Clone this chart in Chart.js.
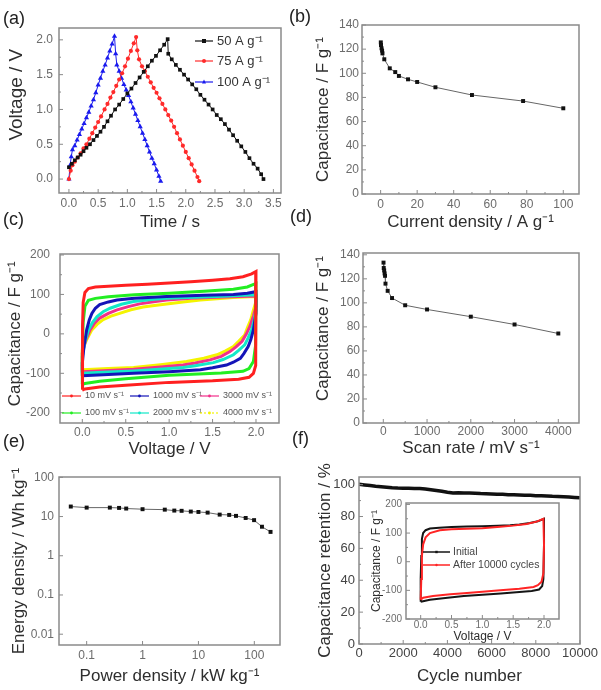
<!DOCTYPE html>
<html>
<head>
<meta charset="utf-8">
<script src="https://cdn.jsdelivr.net/npm/chart.js@4.4.0/dist/chart.umd.min.js"></script>
<style>
  body { margin: 0; background: #fff; }
  #wrap { position: relative; width: 601px; height: 690px; overflow: hidden; font-family: "Liberation Sans", Arial, sans-serif; }
  #wrap canvas { position: absolute; left: 0; top: 0; }
  .tag { position: absolute; font-size: 18px; line-height: 18px; color: #222; }
</style>
</head>
<body>
<div id="wrap">
  <canvas id="chartGcd" width="601" height="690"></canvas>
  <canvas id="chartRate" width="601" height="690"></canvas>
  <canvas id="chartCv" width="601" height="690"></canvas>
  <canvas id="chartScan" width="601" height="690"></canvas>
  <canvas id="chartRagone" width="601" height="690"></canvas>
  <canvas id="chartCycle" width="601" height="690"></canvas>
  <canvas id="chartInset" width="601" height="690"></canvas>
  <div class="tag" style="left:3px;top:9px">(a)</div>
  <div class="tag" style="left:289px;top:7px">(b)</div>
  <div class="tag" style="left:3px;top:210px">(c)</div>
  <div class="tag" style="left:290px;top:207px">(d)</div>
  <div class="tag" style="left:3px;top:432px">(e)</div>
  <div class="tag" style="left:292px;top:429px">(f)</div>
</div>
<script>
// (a) galvanostatic charge/discharge
const gcdLabels = ['50 A g⁻¹', '75 A g⁻¹', '100 A g⁻¹'];
const gcdTime50 = [0, 0.05, 0.10, 0.15, 0.20, 0.25, 0.30, 0.36, 0.42, 0.48, 0.54, 0.60, 0.66, 0.72, 0.79, 0.86, 0.93, 1.00, 1.07, 1.14, 1.21, 1.28, 1.35, 1.42, 1.49, 1.56, 1.63, 1.69, 1.70, 1.76, 1.83, 1.90, 1.97, 2.04, 2.11, 2.18, 2.25, 2.32, 2.39, 2.46, 2.53, 2.60, 2.67, 2.74, 2.81, 2.88, 2.95, 3.02, 3.09, 3.16, 3.23, 3.29, 3.33];
const gcdVolt50 = [0.17, 0.22, 0.27, 0.31, 0.35, 0.40, 0.45, 0.50, 0.56, 0.62, 0.68, 0.75, 0.83, 0.91, 1.00, 1.07, 1.15, 1.23, 1.30, 1.38, 1.46, 1.54, 1.62, 1.70, 1.77, 1.85, 1.93, 2.01, 1.80, 1.72, 1.64, 1.57, 1.50, 1.43, 1.36, 1.29, 1.21, 1.14, 1.07, 1.00, 0.92, 0.86, 0.79, 0.71, 0.63, 0.55, 0.47, 0.39, 0.30, 0.22, 0.15, 0.07, 0.00];
const gcdTime75 = [0, 0.03, 0.06, 0.10, 0.15, 0.20, 0.25, 0.30, 0.35, 0.40, 0.45, 0.50, 0.55, 0.61, 0.66, 0.71, 0.76, 0.81, 0.86, 0.91, 0.96, 1.01, 1.06, 1.11, 1.15, 1.17, 1.20, 1.25, 1.30, 1.35, 1.40, 1.45, 1.50, 1.55, 1.60, 1.65, 1.70, 1.75, 1.80, 1.85, 1.90, 1.95, 2.00, 2.05, 2.10, 2.15, 2.20, 2.23];
const gcdVolt75 = [0, 0.12, 0.20, 0.25, 0.31, 0.37, 0.44, 0.50, 0.58, 0.66, 0.74, 0.82, 0.90, 1.00, 1.08, 1.17, 1.25, 1.34, 1.43, 1.52, 1.62, 1.73, 1.84, 1.95, 2.04, 1.85, 1.72, 1.62, 1.55, 1.47, 1.39, 1.31, 1.24, 1.16, 1.08, 1.00, 0.92, 0.84, 0.75, 0.66, 0.57, 0.48, 0.39, 0.30, 0.21, 0.12, 0.03, -0.03];
const gcdTime100 = [0, 0.02, 0.04, 0.06, 0.10, 0.14, 0.18, 0.22, 0.26, 0.30, 0.34, 0.38, 0.42, 0.46, 0.50, 0.54, 0.58, 0.62, 0.66, 0.70, 0.74, 0.78, 0.80, 0.82, 0.86, 0.90, 0.94, 0.98, 1.02, 1.06, 1.10, 1.14, 1.18, 1.22, 1.26, 1.30, 1.34, 1.38, 1.42, 1.46, 1.50, 1.54, 1.57];
const gcdVolt100 = [0, 0.20, 0.32, 0.42, 0.48, 0.56, 0.64, 0.72, 0.80, 0.88, 0.96, 1.05, 1.14, 1.24, 1.35, 1.45, 1.55, 1.64, 1.74, 1.84, 1.94, 2.05, 1.80, 1.64, 1.55, 1.45, 1.36, 1.28, 1.20, 1.11, 1.02, 0.93, 0.84, 0.75, 0.66, 0.57, 0.48, 0.39, 0.30, 0.22, 0.13, 0.04, -0.03];
const timeTicks = [0, 0.5, 1, 1.5, 2, 2.5, 3, 3.5];
const voltTicks = [0, 0.5, 1, 1.5, 2];

// (b) capacitance vs current density
const currentDensity = [0.1, 0.2, 0.5, 0.8, 1, 2, 5, 8, 10, 15, 20, 30, 50, 78, 100];
const capByCurrent = [125.6, 123.4, 120.7, 118.8, 116.5, 111.6, 104.1, 101, 97.8, 95, 92.8, 88.4, 82, 77, 71];
const currentTicks = [0, 20, 40, 60, 80, 100];
const capTicks = [0, 20, 40, 60, 80, 100, 120, 140];

// (c) CV loops at six scan rates
const cvLabels = ['10 mV s⁻¹', '100 mV s⁻¹', '1000 mV s⁻¹', '2000 mV s⁻¹', '3000 mV s⁻¹', '4000 mV s⁻¹'];
const cv10V = [0.00, 0.00, 0.005, 0.01, 0.03, 0.07, 0.15, 0.30, 0.50, 0.75, 1.00, 1.25, 1.50, 1.70, 1.85, 1.95, 2.00, 2.00, 2.00, 1.99, 1.97, 1.92, 1.80, 1.50, 1.00, 0.50, 0.20, 0.03, 0.00];
const cv10C = [-142, -60, 20, 80, 105, 115, 119, 121, 123, 126, 129, 132, 136, 140, 145, 152, 158, 100, 0, -80, -100, -110, -115, -119, -123, -130, -135, -140, -142];
const cv100V = [0.00, 0.00, 0.01, 0.03, 0.07, 0.15, 0.30, 0.60, 1.00, 1.40, 1.74, 1.90, 2.00, 2.00, 1.99, 1.97, 1.92, 1.85, 1.60, 1.00, 0.50, 0.20, 0.03, 0.00];
const cv100C = [-128, -50, 30, 70, 85, 90, 94, 99, 103, 108, 113, 119, 128, 50, -30, -70, -88, -95, -99, -105, -114, -120, -126, -128];
const cv1000V = [0.00, 0.00, 0.02, 0.05, 0.08, 0.11, 0.15, 0.20, 0.30, 0.40, 0.60, 0.97, 1.40, 1.74, 1.90, 2.00, 2.00, 1.97, 1.94, 1.91, 1.86, 1.82, 1.74, 1.66, 1.50, 1.36, 1.00, 0.59, 0.30, 0.00];
const cv1000C = [-106, -74, -30, 10, 35, 52, 65, 74, 81, 86, 90, 95, 98, 100, 103, 107, 52, 10, -15, -32, -50, -62, -72, -79, -86, -91, -96, -100, -103, -106];
const cv2000V = [0.00, 0.00, 0.03, 0.07, 0.12, 0.17, 0.24, 0.32, 0.45, 0.59, 0.80, 0.97, 1.30, 1.55, 1.80, 2.00, 2.00, 1.98, 1.95, 1.91, 1.87, 1.80, 1.74, 1.62, 1.51, 1.30, 1.16, 0.80, 0.59, 0.30, 0.00];
const cv2000C = [-100, -58, -20, 10, 30, 44, 56, 65, 75, 82, 87, 90, 93, 95, 97, 99, 61, 35, 10, -10, -28, -42, -53, -65, -73, -81, -85, -91, -94, -97, -100];
const cv3000V = [0.00, 0.00, 0.04, 0.09, 0.14, 0.20, 0.30, 0.40, 0.53, 0.66, 0.80, 0.97, 1.25, 1.55, 1.80, 2.00, 2.00, 1.97, 1.93, 1.89, 1.84, 1.77, 1.70, 1.60, 1.47, 1.30, 1.16, 0.80, 0.59, 0.30, 0.00];
const cv3000C = [-96, -49, -15, 10, 27, 40, 52, 61, 69, 76, 81, 86, 90, 93, 95, 96, 69, 45, 19, 0, -19, -33, -45, -57, -66, -74, -79, -86, -90, -93, -96];
const cv4000V = [0.00, 0.00, 0.05, 0.11, 0.17, 0.24, 0.33, 0.43, 0.56, 0.70, 0.83, 0.97, 1.16, 1.36, 1.55, 1.74, 2.00, 2.00, 1.97, 1.94, 1.90, 1.87, 1.80, 1.74, 1.65, 1.55, 1.40, 1.20, 0.90, 0.59, 0.30, 0.00];
const cv4000C = [-91, -41, -15, 10, 24, 36, 45, 52, 61, 68, 72, 76, 81, 86, 89, 92, 95, 82, 60, 36, 15, -3, -19, -32, -43, -53, -62, -70, -78, -85, -88, -91];
const cvVoltTicks = [0, 0.5, 1, 1.5, 2];
const cvCapTicks = [-200, -100, 0, 100, 200];

// (d) capacitance vs scan rate
const scanRate = [5, 10, 20, 30, 40, 50, 100, 200, 500, 1000, 2000, 3000, 4000];
const capByScan = [133.5, 129, 127, 124.5, 122.5, 116, 110, 104, 98, 94.5, 88.5, 82, 74.5];
const scanTicks = [0, 1000, 2000, 3000, 4000];

// (e) Ragone plot
const powerDensity = [0.052, 0.1, 0.26, 0.38, 0.51, 1.0, 2.5, 3.7, 5, 7.3, 10, 14.6, 24, 35.5, 47, 70, 99, 137, 195];
const energyDensity = [18.0, 16.9, 16.9, 16.6, 16.0, 15.4, 15.0, 14.2, 14.0, 13.4, 13.1, 12.6, 11.2, 11.0, 10.4, 9.2, 8.1, 5.5, 4.06];
const powerTicks = [0.1, 1, 10, 100];
const energyTicks = [0.01, 0.1, 1, 10, 100];

// (f) cycling stability + inset CV
const cycleNumber = [0, 250, 500, 750, 1000, 1250, 1500, 1750, 2000, 2250, 2500, 2750, 3000, 3250, 3500, 3750, 4000, 4250, 4500, 4750, 5000, 5250, 5500, 5750, 6000, 6250, 6500, 6750, 7000, 7250, 7500, 7750, 8000, 8250, 8500, 8750, 9000, 9250, 9500, 9750, 10000];
const retention = [100.2, 99.8, 99.4, 99.0, 98.7, 98.4, 98.1, 97.9, 97.8, 97.7, 97.6, 97.6, 97.3, 96.8, 96.3, 95.8, 95.2, 94.7, 94.9, 94.8, 94.7, 94.6, 94.4, 94.3, 94.2, 94.0, 93.9, 93.7, 93.6, 93.5, 93.4, 93.3, 93.1, 93.0, 92.9, 92.7, 92.6, 92.4, 92.2, 92.0, 91.7];
const cycleTicks = [0, 2000, 4000, 6000, 8000, 10000];
const retentionTicks = [0, 20, 40, 60, 80, 100];
const insetLabels = ['Initial', 'After 10000 cycles'];
const initV = [0.00, 0.00, 0.01, 0.02, 0.04, 0.08, 0.15, 0.30, 0.50, 0.75, 1.00, 1.25, 1.45, 1.60, 1.77, 1.90, 2.00, 2.00, 1.99, 1.97, 1.92, 1.80, 1.60, 1.30, 1.00, 0.70, 0.40, 0.15, 0.02, 0.00];
const initC = [-140, -60, 20, 80, 100, 110, 116, 119, 121, 123, 124, 126, 127, 130, 135, 141, 150, 60, -60, -85, -97, -102, -106, -111, -115, -120, -127, -133, -139, -140];
const agedV = [0.00, 0.01, 0.02, 0.04, 0.08, 0.15, 0.31, 0.50, 0.75, 1.00, 1.29, 1.50, 1.72, 1.88, 1.99, 2.00, 1.99, 1.96, 1.90, 1.83, 1.60, 1.29, 1.00, 0.70, 0.48, 0.20, 0.04, 0.00];
const agedC = [-133, -60, 20, 60, 85, 100, 110, 113, 115, 117, 122, 126, 132, 140, 150, 60, -40, -70, -82, -88, -94, -100, -105, -110, -114, -120, -126, -133];
const insetVoltTicks = [0, 0.5, 1, 1.5, 2];
const insetCapTicks = [-200, -100, 0, 100, 200];

const FONT = '"Liberation Sans", Arial, sans-serif';
Chart.defaults.font.family = FONT;

const pairs = (xs, ys) => xs.map((x, i) => ({ x: x, y: ys[i] }));

// box round the plot area with inward ticks, like Origin
const framePlugin = {
    id: 'frame',
    afterDatasetsDraw(chart, args, opts) {
        const { ctx, chartArea: a, scales } = chart;
        ctx.save();
        ctx.strokeStyle = '#8a8a8a';
        ctx.lineWidth = 1.5;
        ctx.strokeRect(a.left, a.top, a.right - a.left, a.bottom - a.top);
        ctx.lineWidth = 1;
        ['x', 'y'].forEach(id => {
            const s = scales[id];
            const vals = s.ticks.map(t => t.value);
            const marks = vals.map(v => [v, 4]);
            if (s.type === 'linear') {
                for (let i = 0; i < vals.length - 1; i++) marks.push([(vals[i] + vals[i + 1]) / 2, 2]);
            }
            marks.forEach(([v, len]) => {
                const p = s.getPixelForValue(v);
                ctx.beginPath();
                if (id === 'x') { ctx.moveTo(p, a.bottom); ctx.lineTo(p, a.bottom - len); }
                else { ctx.moveTo(a.left, p); ctx.lineTo(a.left + len, p); }
                ctx.stroke();
            });
        });
        ctx.restore();
    }
};

function drawMarker(ctx, style, x, y, r, color) {
    ctx.fillStyle = color;
    ctx.beginPath();
    if (style === 'rect') ctx.rect(x - r, y - r, 2 * r, 2 * r);
    else if (style === 'triangle') { ctx.moveTo(x, y - r * 1.2); ctx.lineTo(x + r, y + r * 0.8); ctx.lineTo(x - r, y + r * 0.8); ctx.closePath(); }
    else ctx.arc(x, y, r, 0, Math.PI * 2);
    ctx.fill();
}

// small legend placed inside the plot
const keyPlugin = {
    id: 'keys',
    afterDraw(chart, args, opts) {
        if (!opts || !opts.rows) return;
        const ctx = chart.ctx;
        ctx.save();
        ctx.font = opts.font;
        ctx.textBaseline = 'middle';
        opts.rows.forEach(r => {
            const ds = chart.data.datasets[r.index];
            ctx.strokeStyle = ds.borderColor;
            ctx.lineWidth = opts.lineWidth || 1.2;
            ctx.setLineDash(r.dash || []);
            ctx.beginPath();
            ctx.moveTo(r.x, r.y);
            ctx.lineTo(r.x + opts.len, r.y);
            ctx.stroke();
            ctx.setLineDash([]);
            if (opts.marker) drawMarker(ctx, ds.pointStyle, r.x + opts.len / 2, r.y, opts.marker, ds.borderColor);
            ctx.fillStyle = opts.color;
            ctx.fillText(ds.label, r.x + opts.len + opts.gap, r.y);
        });
        ctx.restore();
    }
};

function makeAxis(o) {
    return {
        type: o.type || 'linear',
        min: o.min,
        max: o.max,
        grid: { display: false, drawTicks: false },
        border: { display: false },
        title: {
            display: true,
            text: o.title,
            color: '#2e2e2e',
            font: { family: FONT, size: o.titleSize || 17 },
            padding: 0
        },
        ticks: {
            color: o.tickColor || '#6c6c6c',
            font: { family: FONT, size: o.tickSize || 12 },
            padding: o.pad,
            autoSkip: false,
            maxRotation: 0,
            minRotation: 0,
            callback: o.fmt || (v => String(v))
        },
        afterBuildTicks: s => { s.ticks = o.ticks.map(v => ({ value: v })); },
        afterFit: s => {
            if (s.isHorizontal()) s.height = o.size; else s.width = o.size;
            s.paddingLeft = s.paddingRight = s.paddingTop = s.paddingBottom = 0;
        }
    };
}

// area = plot box in page pixels, wy / hx = room for y and x axis
function baseOptions(area, wy, hx, xAxis, yAxis, keys) {
    return {
        responsive: false,
        animation: false,
        events: [],
        layout: { padding: { left: area[0] - wy, top: area[1], right: 601 - area[2], bottom: 690 - area[3] - hx } },
        scales: { x: xAxis, y: yAxis },
        plugins: {
            legend: { display: false },
            tooltip: { enabled: false },
            keys: keys || {}
        }
    };
}

const fixed1 = v => v.toFixed(1);

showGcd();
showRate();
showCv();
showScan();
showRagone();
showCycle();
showInset();

function showGcd() {
    const ctx = document.getElementById('chartGcd').getContext('2d');
    const series = [
        [gcdTime50, gcdVolt50, '#111111', 'rect', 2.6],
        [gcdTime75, gcdVolt75, '#ff2a2a', 'circle', 2.1],
        [gcdTime100, gcdVolt100, '#1a1aee', 'triangle', 3]
    ];
    new Chart(ctx, {
        type: 'scatter',
        data: {
            datasets: series.map((s, i) => ({
                label: gcdLabels[i],
                data: pairs(s[0], s[1]),
                showLine: true,
                borderColor: s[2],
                backgroundColor: s[2],
                borderWidth: 1,
                pointStyle: s[3],
                pointRadius: s[4],
                pointBorderWidth: 0
            }))
        },
        options: baseOptions([59, 28, 281, 193], 54, 40,
            makeAxis({ min: -0.17, max: 3.63, ticks: timeTicks, fmt: fixed1, title: 'Time / s', size: 40, pad: 3 }),
            // this title sits higher than the middle of the axis in the source
            makeAxis({ min: -0.2, max: 2.17, ticks: voltTicks, fmt: fixed1, title: '      Voltage / V', titleSize: 19, size: 54, pad: 6 }),
            {
                font: '13px ' + FONT, color: '#333', len: 18, gap: 4, marker: 2, lineWidth: 1.2,
                rows: [
                    { index: 0, x: 195, y: 41 },
                    { index: 1, x: 195, y: 61 },
                    { index: 2, x: 195, y: 82 }
                ]
            }),
        plugins: [framePlugin, keyPlugin]
    });
}

function showRate() {
    const ctx = document.getElementById('chartRate').getContext('2d');
    new Chart(ctx, {
        type: 'scatter',
        data: {
            datasets: [
                {
                    label: 'Capacitance',
                    data: pairs(currentDensity, capByCurrent),
                    showLine: true,
                    borderColor: '#666',
                    backgroundColor: '#111',
                    borderWidth: 1,
                    pointStyle: 'rect',
                    pointRadius: 2.8,
                    pointBorderWidth: 0
                }
            ]
        },
        options: baseOptions([362, 25, 579, 194], 49, 39,
            makeAxis({ min: -10.2, max: 108.6, ticks: currentTicks, title: 'Current density / A g⁻¹', size: 39, pad: 3 }),
            makeAxis({ min: 0, max: 140, ticks: capTicks, title: 'Capacitance / F g⁻¹', size: 49, pad: 3 })),
        plugins: [framePlugin]
    });
}

function showCv() {
    const ctx = document.getElementById('chartCv').getContext('2d');
    const loops = [
        [cv10V, cv10C, '#ff2020'],
        [cv100V, cv100C, '#22ee22'],
        [cv1000V, cv1000C, '#1414b8'],
        [cv2000V, cv2000C, '#12e8c8'],
        [cv3000V, cv3000C, '#f2308a'],
        [cv4000V, cv4000C, '#f4f400']
    ];
    new Chart(ctx, {
        type: 'scatter',
        data: {
            datasets: loops.map((l, i) => ({
                label: cvLabels[i],
                data: pairs(l[0], l[1]),
                showLine: true,
                borderColor: l[2],
                backgroundColor: l[2],
                borderWidth: 3,
                pointRadius: 0,
                pointStyle: 'circle'
            }))
        },
        options: baseOptions([60, 254, 279, 423], 55, 37,
            makeAxis({ min: -0.257, max: 2.265, ticks: cvVoltTicks, fmt: fixed1, title: 'Voltage / V', size: 37, pad: 2 }),
            makeAxis({ min: -226, max: 202.5, ticks: cvCapTicks, title: '  Capacitance / F g⁻¹', size: 55, pad: 10 }),
            {
                font: '9px ' + FONT, color: '#555', len: 19, gap: 4, marker: 1.4, lineWidth: 1.2,
                rows: [
                    { index: 0, x: 62, y: 396 },
                    { index: 2, x: 130, y: 396 },
                    { index: 4, x: 200, y: 396 },
                    { index: 1, x: 62, y: 413 },
                    { index: 3, x: 130, y: 413 },
                    { index: 5, x: 200, y: 413, dash: [2, 2] }
                ]
            }),
        plugins: [framePlugin, keyPlugin]
    });
}

function showScan() {
    const ctx = document.getElementById('chartScan').getContext('2d');
    new Chart(ctx, {
        type: 'scatter',
        data: {
            datasets: [
                {
                    label: 'Capacitance',
                    data: pairs(scanRate, capByScan),
                    showLine: true,
                    borderColor: '#666',
                    backgroundColor: '#111',
                    borderWidth: 1,
                    pointStyle: 'rect',
                    pointRadius: 2.8,
                    pointBorderWidth: 0
                }
            ]
        },
        options: baseOptions([363, 253, 579, 423], 50, 36,
            makeAxis({ min: -464, max: 4473, ticks: scanTicks, title: 'Scan rate / mV s⁻¹', size: 36, pad: 1 }),
            makeAxis({ min: 0, max: 141.5, ticks: capTicks, title: '    Capacitance / F g⁻¹', size: 50, pad: 3 })),
        plugins: [framePlugin]
    });
}

function showRagone() {
    const ctx = document.getElementById('chartRagone').getContext('2d');
    new Chart(ctx, {
        type: 'scatter',
        data: {
            datasets: [
                {
                    label: 'Energy density',
                    data: pairs(powerDensity, energyDensity),
                    showLine: true,
                    borderColor: '#666',
                    backgroundColor: '#111',
                    borderWidth: 1,
                    pointStyle: 'rect',
                    pointRadius: 2.8,
                    pointBorderWidth: 0
                }
            ]
        },
        options: baseOptions([59, 477, 280, 645], 50, 42,
            makeAxis({ type: 'logarithmic', min: 0.032, max: 288, ticks: powerTicks, title: 'Power density / kW kg⁻¹', size: 42, pad: 3 }),
            makeAxis({ type: 'logarithmic', min: 0.0053, max: 102, ticks: energyTicks, title: 'Energy density / Wh kg⁻¹', size: 50, pad: 5 })),
        plugins: [framePlugin]
    });
}

function showCycle() {
    const ctx = document.getElementById('chartCycle').getContext('2d');
    new Chart(ctx, {
        type: 'scatter',
        data: {
            datasets: [
                {
                    label: 'Retention',
                    data: pairs(cycleNumber, retention),
                    showLine: true,
                    borderColor: '#111',
                    borderWidth: 3.5,
                    pointRadius: 0
                }
            ]
        },
        options: baseOptions([359, 477, 580, 644], 44, 43,
            makeAxis({ min: 0, max: 10000, ticks: cycleTicks, title: 'Cycle number', size: 43, pad: 1.5, tickSize: 13, tickColor: '#444' }),
            makeAxis({ min: 0, max: 104.8, ticks: retentionTicks, title: 'Capacitance retention / %', size: 44, pad: 4, tickSize: 13, tickColor: '#444' })),
        plugins: [framePlugin]
    });
}

function showInset() {
    const ctx = document.getElementById('chartInset').getContext('2d');
    new Chart(ctx, {
        type: 'scatter',
        data: {
            datasets: [
                {
                    label: insetLabels[0],
                    data: pairs(initV, initC),
                    showLine: true,
                    borderColor: '#151515',
                    backgroundColor: '#151515',
                    borderWidth: 2,
                    pointRadius: 0,
                    pointStyle: 'rect',
                    order: 1
                },
                {
                    label: insetLabels[1],
                    data: pairs(agedV, agedC),
                    showLine: true,
                    borderColor: '#ff2424',
                    backgroundColor: '#ff2424',
                    borderWidth: 2,
                    pointRadius: 0,
                    pointStyle: 'circle',
                    order: 0
                }
            ]
        },
        options: baseOptions([406, 503, 559, 619], 37, 25,
            makeAxis({ min: -0.238, max: 2.243, ticks: insetVoltTicks, fmt: fixed1, title: 'Voltage / V', size: 25, pad: 0, tickSize: 10, titleSize: 12 }),
            makeAxis({ min: -200, max: 205, ticks: insetCapTicks, title: 'Capacitance / F g⁻¹', size: 37, pad: 4, tickSize: 10, titleSize: 12 }),
            {
                font: '10.5px ' + FONT, color: '#444', len: 27, gap: 3, marker: 1.2, lineWidth: 1.5,
                rows: [
                    { index: 0, x: 423, y: 552 },
                    { index: 1, x: 423, y: 565 }
                ]
            }),
        plugins: [framePlugin, keyPlugin]
    });
}
</script>
</body>
</html>
